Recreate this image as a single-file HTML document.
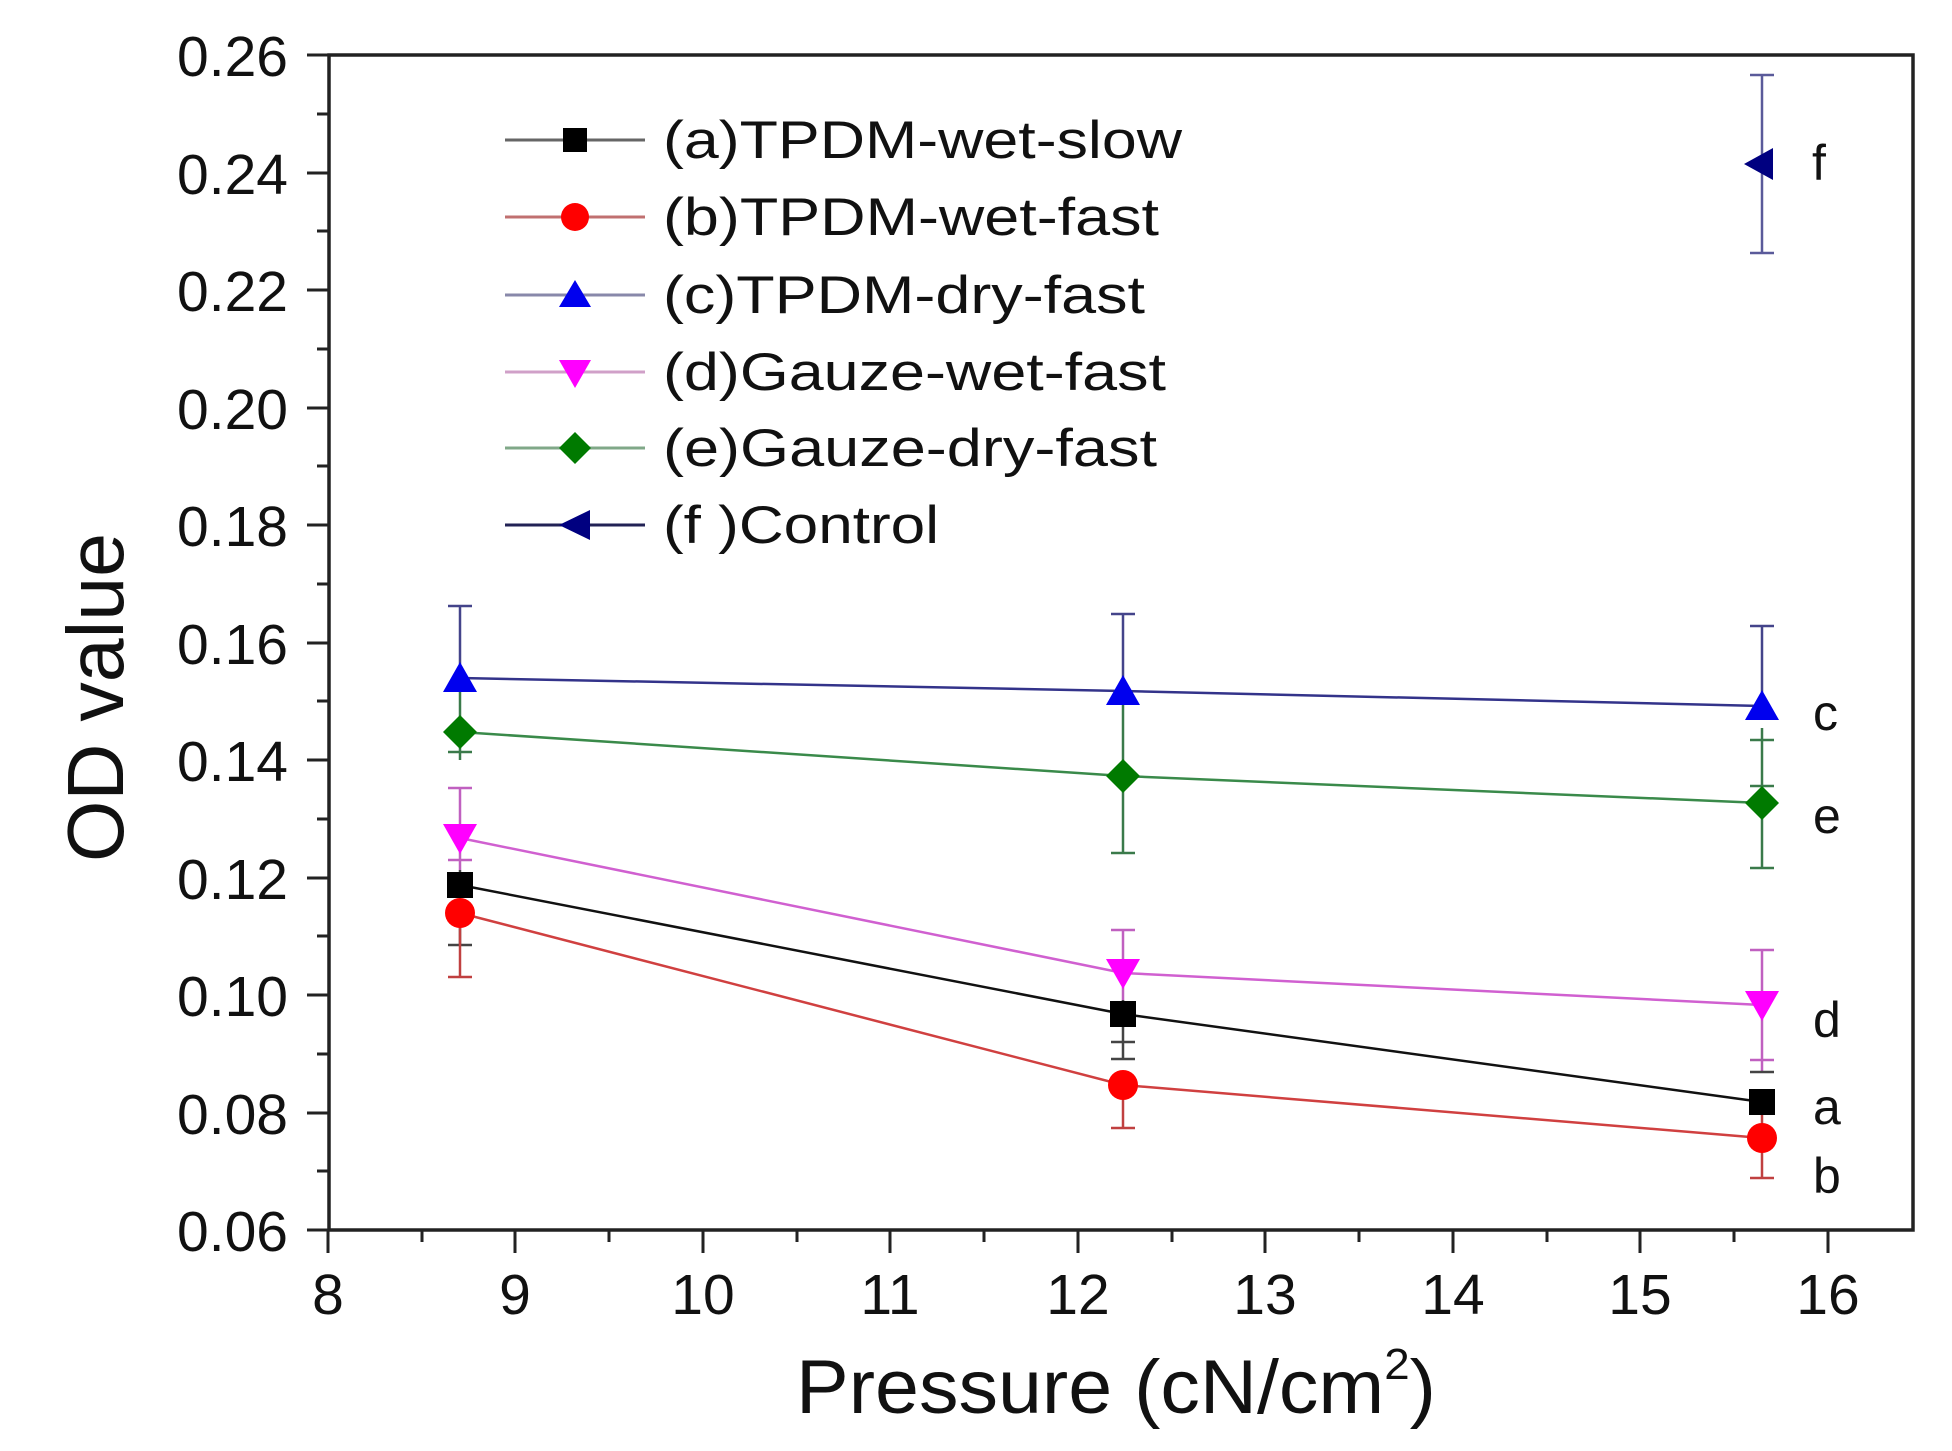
<!DOCTYPE html>
<html><head><meta charset="utf-8"><style>
html,body{margin:0;padding:0;background:#fff;}
svg{display:block;}
text{font-family:"Liberation Sans",Arial,sans-serif;fill:#111;}
</style></head><body>
<svg width="1952" height="1451" viewBox="0 0 1952 1451" xmlns="http://www.w3.org/2000/svg">
<rect width="1952" height="1451" fill="#fff"/>
<rect x="329" y="55" width="1584" height="1175" fill="none" stroke="#222" stroke-width="3.5"/>
<g stroke="#222" stroke-width="3">
<line x1="307" y1="55" x2="329" y2="55"/><line x1="317" y1="114" x2="329" y2="114"/>
<line x1="307" y1="173" x2="329" y2="173"/><line x1="317" y1="231" x2="329" y2="231"/>
<line x1="307" y1="290" x2="329" y2="290"/><line x1="317" y1="349" x2="329" y2="349"/>
<line x1="307" y1="408" x2="329" y2="408"/><line x1="317" y1="466" x2="329" y2="466"/>
<line x1="307" y1="525" x2="329" y2="525"/><line x1="317" y1="584" x2="329" y2="584"/>
<line x1="307" y1="643" x2="329" y2="643"/><line x1="317" y1="701" x2="329" y2="701"/>
<line x1="307" y1="760" x2="329" y2="760"/><line x1="317" y1="819" x2="329" y2="819"/>
<line x1="307" y1="878" x2="329" y2="878"/><line x1="317" y1="936" x2="329" y2="936"/>
<line x1="307" y1="995" x2="329" y2="995"/><line x1="317" y1="1054" x2="329" y2="1054"/>
<line x1="307" y1="1113" x2="329" y2="1113"/><line x1="317" y1="1171" x2="329" y2="1171"/>
<line x1="307" y1="1230" x2="329" y2="1230"/>
<line x1="328" y1="1230" x2="328" y2="1253"/><line x1="422" y1="1230" x2="422" y2="1242"/>
<line x1="515" y1="1230" x2="515" y2="1253"/><line x1="609" y1="1230" x2="609" y2="1242"/>
<line x1="703" y1="1230" x2="703" y2="1253"/><line x1="797" y1="1230" x2="797" y2="1242"/>
<line x1="890" y1="1230" x2="890" y2="1253"/><line x1="984" y1="1230" x2="984" y2="1242"/>
<line x1="1078" y1="1230" x2="1078" y2="1253"/><line x1="1172" y1="1230" x2="1172" y2="1242"/>
<line x1="1265" y1="1230" x2="1265" y2="1253"/><line x1="1359" y1="1230" x2="1359" y2="1242"/>
<line x1="1453" y1="1230" x2="1453" y2="1253"/><line x1="1547" y1="1230" x2="1547" y2="1242"/>
<line x1="1640" y1="1230" x2="1640" y2="1253"/><line x1="1734" y1="1230" x2="1734" y2="1242"/>
<line x1="1828" y1="1230" x2="1828" y2="1253"/>
</g>
<g font-size="57" text-anchor="end">
<text x="288" y="76">0.26</text><text x="288" y="194">0.24</text><text x="288" y="311">0.22</text>
<text x="288" y="429">0.20</text><text x="288" y="546">0.18</text><text x="288" y="664">0.16</text>
<text x="288" y="781">0.14</text><text x="288" y="899">0.12</text><text x="288" y="1016">0.10</text>
<text x="288" y="1134">0.08</text><text x="288" y="1251">0.06</text>
</g>
<g font-size="57" text-anchor="middle">
<text x="328" y="1314">8</text><text x="515" y="1314">9</text><text x="703" y="1314">10</text>
<text x="890" y="1314">11</text><text x="1078" y="1314">12</text><text x="1265" y="1314">13</text>
<text x="1453" y="1314">14</text><text x="1640" y="1314">15</text><text x="1828" y="1314">16</text>
</g>
<text x="796" y="1413" font-size="76" textLength="640" lengthAdjust="spacingAndGlyphs">Pressure (cN/cm<tspan dy="-34" font-size="44">2</tspan><tspan dy="34">)</tspan></text>
<text transform="translate(123,862) rotate(-90)" font-size="80" textLength="329" lengthAdjust="spacingAndGlyphs">OD value</text>

<g stroke-width="2.5" fill="none">
<g stroke="#44448a"><line x1="460" y1="606" x2="460" y2="678"/><line x1="448" y1="606" x2="472" y2="606"/>
<line x1="1123" y1="614" x2="1123" y2="691"/><line x1="1111" y1="614" x2="1135" y2="614"/>
<line x1="1762" y1="626" x2="1762" y2="706"/><line x1="1750" y1="626" x2="1774" y2="626"/></g>
<g stroke="#3a7a4a"><line x1="460" y1="678" x2="460" y2="760"/><line x1="448" y1="752" x2="472" y2="752"/>
<line x1="1123" y1="691" x2="1123" y2="853"/><line x1="1111" y1="853" x2="1135" y2="853"/>
<line x1="1762" y1="728" x2="1762" y2="868"/><line x1="1750" y1="868" x2="1774" y2="868"/><line x1="1750" y1="740" x2="1774" y2="740"/><line x1="1750" y1="786" x2="1774" y2="786"/></g>
<g stroke="#c060c0"><line x1="460" y1="788" x2="460" y2="870"/><line x1="448" y1="788" x2="472" y2="788"/><line x1="448" y1="860" x2="472" y2="860"/>
<line x1="1123" y1="930" x2="1123" y2="1016"/><line x1="1111" y1="930" x2="1135" y2="930"/>
<line x1="1762" y1="950" x2="1762" y2="1072"/><line x1="1750" y1="950" x2="1774" y2="950"/><line x1="1750" y1="1060" x2="1774" y2="1060"/></g>
<g stroke="#444"><line x1="460" y1="870" x2="460" y2="945"/><line x1="448" y1="945" x2="472" y2="945"/>
<line x1="1123" y1="1000" x2="1123" y2="1059"/><line x1="1111" y1="1042" x2="1135" y2="1042"/><line x1="1111" y1="1059" x2="1135" y2="1059"/>
<line x1="1750" y1="1072" x2="1774" y2="1072"/></g>
<g stroke="#c04040"><line x1="460" y1="913" x2="460" y2="977"/><line x1="448" y1="977" x2="472" y2="977"/>
<line x1="1123" y1="1085" x2="1123" y2="1128"/><line x1="1111" y1="1128" x2="1135" y2="1128"/>
<line x1="1762" y1="1102" x2="1762" y2="1178"/><line x1="1750" y1="1178" x2="1774" y2="1178"/></g>
<g stroke="#5a5a9a"><line x1="1762" y1="75" x2="1762" y2="253"/><line x1="1750" y1="75" x2="1774" y2="75"/><line x1="1750" y1="253" x2="1774" y2="253"/></g>
</g>

<g fill="none" stroke-width="2.5">
<polyline points="460,678 1123,691 1762,706" stroke="#33338a"/>
<polyline points="460,732 1123,776 1762,803" stroke="#3a8a4a"/>
<polyline points="460,838 1123,973 1762,1005" stroke="#d060d0"/>
<polyline points="460,885 1123,1014 1762,1102" stroke="#111"/>
<polyline points="460,913 1123,1085 1762,1138" stroke="#d04040"/>
</g>

<g>
<polygon points="460,662 443,692 477,692" fill="#0000ee"/>
<polygon points="1123,675 1106,705 1140,705" fill="#0000ee"/>
<polygon points="1762,690 1745,720 1779,720" fill="#0000ee"/>
<polygon points="460,715 477,732 460,749 443,732" fill="#007a00"/>
<polygon points="1123,759 1140,776 1123,793 1106,776" fill="#007a00"/>
<polygon points="1762,786 1779,803 1762,820 1745,803" fill="#007a00"/>
<polygon points="443,824 477,824 460,854" fill="#ff00ff"/>
<polygon points="1106,959 1140,959 1123,989" fill="#ff00ff"/>
<polygon points="1745,991 1779,991 1762,1021" fill="#ff00ff"/>
<rect x="447" y="872" width="26" height="26" fill="#000"/>
<rect x="1110" y="1001" width="26" height="26" fill="#000"/>
<rect x="1749" y="1089" width="26" height="26" fill="#000"/>
<circle cx="460" cy="913" r="15" fill="#ff0000"/>
<circle cx="1123" cy="1085" r="15" fill="#ff0000"/>
<circle cx="1762" cy="1138" r="15" fill="#ff0000"/>
<polygon points="1744,164 1773,148 1773,180" fill="#000080"/>
</g>

<g font-size="50">
<text x="1812" y="180">f</text>
<text x="1813" y="730">c</text>
<text x="1813" y="833">e</text>
<text x="1813" y="1037">d</text>
<text x="1813" y="1124">a</text>
<text x="1813" y="1193">b</text>
</g>

<g stroke-width="3">
<line x1="505" y1="140" x2="645" y2="140" stroke="#666"/>
<line x1="505" y1="217" x2="645" y2="217" stroke="#c07070"/>
<line x1="505" y1="295" x2="645" y2="295" stroke="#8888aa"/>
<line x1="505" y1="372" x2="645" y2="372" stroke="#d0a0c8"/>
<line x1="505" y1="448" x2="645" y2="448" stroke="#80a888"/>
<line x1="505" y1="525" x2="645" y2="525" stroke="#222255"/>
</g>
<rect x="563" y="128" width="24" height="24" fill="#000"/>
<circle cx="575" cy="217" r="14" fill="#ff0000"/>
<polygon points="575,280 559,307 591,307" fill="#0000ee"/>
<polygon points="559,360 591,360 575,388" fill="#ff00ff"/>
<polygon points="575,432 591,448 575,464 559,448" fill="#007a00"/>
<polygon points="559,525 590,510 590,540" fill="#000080"/>
<g font-size="53">
<text x="663" y="158" textLength="519" lengthAdjust="spacingAndGlyphs">(a)TPDM-wet-slow</text>
<text x="663" y="235" textLength="496" lengthAdjust="spacingAndGlyphs">(b)TPDM-wet-fast</text>
<text x="663" y="313" textLength="482" lengthAdjust="spacingAndGlyphs">(c)TPDM-dry-fast</text>
<text x="663" y="390" textLength="503" lengthAdjust="spacingAndGlyphs">(d)Gauze-wet-fast</text>
<text x="663" y="466" textLength="494" lengthAdjust="spacingAndGlyphs">(e)Gauze-dry-fast</text>
<text x="663" y="543" textLength="276" lengthAdjust="spacingAndGlyphs">(f )Control</text>
</g>
</svg>
</body></html>
